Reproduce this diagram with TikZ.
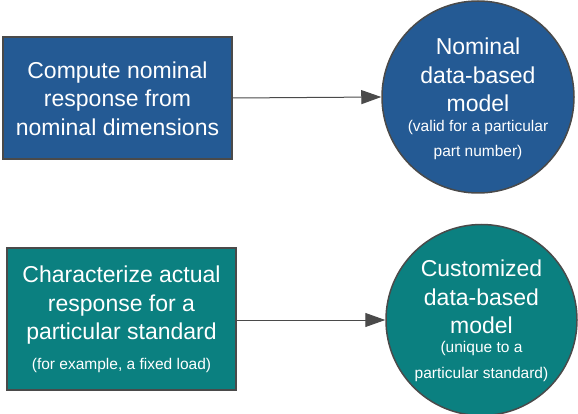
\documentclass[tikz,border=0pt]{standalone}
\usepackage{fontspec}
\setmainfont{Liberation Sans}
\usetikzlibrary{arrows.meta}
\definecolor{nblue}{HTML}{245A94}
\definecolor{nteal}{HTML}{0B8080}
\definecolor{edge}{HTML}{4A4A4A}
\tikzset{
  procbox/.style={draw=edge, line width=1.5pt, text=white, minimum width=229pt, align=center, inner sep=0pt},
  modelcirc/.style={circle, draw=edge, line width=1.5pt, text=white, align=center, inner sep=0pt},
  big/.style={text=white, align=center, font=\fontsize{23}{28.5}\selectfont},
  small/.style={text=white, align=center, font=\fontsize{15.5}{25.5}\selectfont},
  conn/.style={draw=edge, line width=1pt, -{Triangle[length=20pt,width=14pt]}}
}
\begin{document}
\begin{tikzpicture}[x=1pt,y=-1pt]
\useasboundingbox (0,0) rectangle (578,414);
\node[procbox, fill=nblue, minimum height=122pt] (b1) at (117.5,98) {};
\node[big] at (117.5,98.5) {Compute nominal\\response from\\nominal dimensions};
\node[modelcirc, fill=nblue, minimum size=192pt] (c1) at (478,97) {};
\node[big] at (478,75) {Nominal\\data-based\\model};
\node[small] at (478,140) {(valid for a particular\\part number)};
\node[procbox, fill=nteal, minimum height=142pt] (b2) at (121.5,319) {};
\node[big] at (121.5,305.5) {Characterize actual\\response for a\\particular standard};
\node[small] at (121.5,365) {(for example, a fixed load)};
\node[modelcirc, fill=nteal, minimum size=191pt] (c2) at (481.5,320) {};
\node[big] at (481.5,297) {Customized\\data-based\\model};
\node[small] at (481.5,361.5) {(unique to a\\particular standard)};
\draw[conn] (b1.east) -- (c1.west);
\draw[conn] (b2.east |- c2.west) -- (c2.west);
\end{tikzpicture}
\end{document}
